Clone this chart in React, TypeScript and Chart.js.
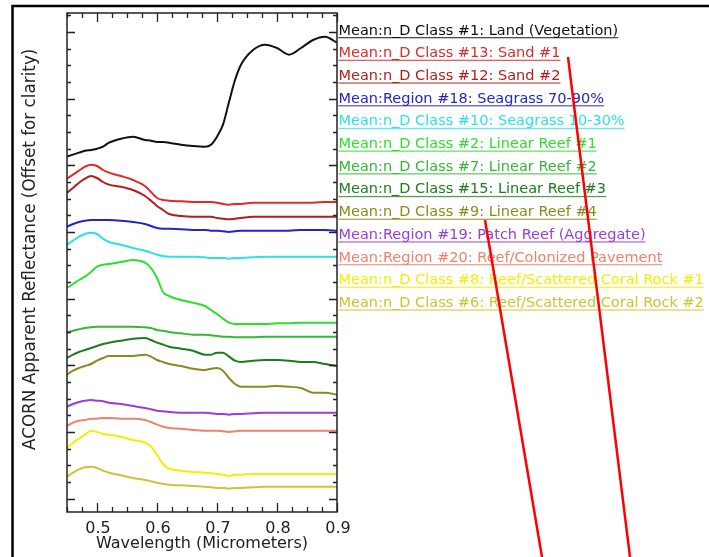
import { useEffect, useRef } from 'react';
import { Chart, registerables } from 'chart.js';

Chart.register(...registerables);

// Wavelength samples (micrometers)
const WAVELENGTHS = [
  0.45, 0.46, 0.47, 0.48, 0.49, 0.5, 0.51, 0.52, 0.54, 0.56, 0.58, 0.59, 0.6, 0.61, 0.62, 0.64,
  0.66, 0.68, 0.69, 0.7, 0.71, 0.72, 0.73, 0.74, 0.76, 0.78, 0.8, 0.82, 0.84, 0.86, 0.88, 0.9,
];

// Mean apparent reflectance per class, offset for clarity
const LAND_VEGETATION = [
  0.533, 0.536, 0.539, 0.542, 0.543, 0.545, 0.548, 0.554, 0.56, 0.563, 0.558, 0.557, 0.555, 0.555, 0.554, 0.551,
  0.549, 0.548, 0.551, 0.563, 0.581, 0.615, 0.648, 0.671, 0.693, 0.701, 0.696, 0.686, 0.696, 0.708, 0.713, 0.704,
];
const SAND_1 = [
  0.5, 0.506, 0.512, 0.518, 0.521, 0.519, 0.513, 0.509, 0.504, 0.498, 0.489, 0.48, 0.471, 0.468, 0.467, 0.466,
  0.465, 0.465, 0.465, 0.464, 0.462, 0.461, 0.462, 0.462, 0.464, 0.464, 0.464, 0.464, 0.464, 0.464, 0.465, 0.465,
];
const SAND_2 = [
  0.479, 0.486, 0.494, 0.5, 0.504, 0.501, 0.495, 0.491, 0.488, 0.483, 0.474, 0.467, 0.459, 0.453, 0.447, 0.444,
  0.443, 0.443, 0.443, 0.441, 0.44, 0.439, 0.44, 0.441, 0.443, 0.443, 0.443, 0.443, 0.443, 0.443, 0.443, 0.443,
];
const SEAGRASS_70_90 = [
  0.428, 0.432, 0.435, 0.437, 0.438, 0.438, 0.438, 0.438, 0.437, 0.435, 0.432, 0.429, 0.426, 0.425, 0.425, 0.424,
  0.423, 0.423, 0.422, 0.422, 0.421, 0.42, 0.421, 0.422, 0.422, 0.422, 0.422, 0.422, 0.423, 0.423, 0.423, 0.422,
];
const SEAGRASS_10_30 = [
  0.401, 0.407, 0.413, 0.417, 0.419, 0.417, 0.41, 0.405, 0.401, 0.396, 0.392, 0.389, 0.386, 0.384, 0.383, 0.383,
  0.383, 0.382, 0.381, 0.381, 0.381, 0.38, 0.381, 0.381, 0.382, 0.383, 0.383, 0.383, 0.383, 0.383, 0.383, 0.383,
];
const LINEAR_REEF_1 = [
  0.336, 0.342, 0.348, 0.353, 0.36, 0.368, 0.371, 0.372, 0.375, 0.378, 0.374, 0.366, 0.351, 0.33, 0.324, 0.318,
  0.314, 0.309, 0.303, 0.297, 0.29, 0.284, 0.282, 0.282, 0.282, 0.282, 0.283, 0.283, 0.284, 0.284, 0.284, 0.284,
];
const LINEAR_REEF_2 = [
  0.269, 0.272, 0.274, 0.276, 0.277, 0.278, 0.278, 0.278, 0.278, 0.278, 0.277, 0.276, 0.273, 0.272, 0.27, 0.268,
  0.266, 0.266, 0.265, 0.264, 0.263, 0.263, 0.262, 0.262, 0.262, 0.263, 0.263, 0.263, 0.263, 0.263, 0.263, 0.263,
];
const LINEAR_REEF_3 = [
  0.231, 0.236, 0.24, 0.243, 0.246, 0.249, 0.252, 0.254, 0.257, 0.26, 0.261, 0.258, 0.254, 0.251, 0.248, 0.245,
  0.242, 0.236, 0.236, 0.239, 0.239, 0.233, 0.227, 0.225, 0.227, 0.228, 0.228, 0.227, 0.225, 0.225, 0.222, 0.219,
];
const LINEAR_REEF_4 = [
  0.206, 0.212, 0.216, 0.219, 0.222, 0.227, 0.231, 0.234, 0.234, 0.234, 0.236, 0.233, 0.228, 0.225, 0.222, 0.219,
  0.215, 0.213, 0.215, 0.216, 0.212, 0.201, 0.192, 0.188, 0.188, 0.188, 0.189, 0.188, 0.186, 0.179, 0.179, 0.176,
];
const PATCH_REEF = [
  0.158, 0.162, 0.165, 0.167, 0.168, 0.167, 0.166, 0.164, 0.162, 0.159, 0.156, 0.154, 0.152, 0.151, 0.15, 0.149,
  0.149, 0.149, 0.148, 0.147, 0.147, 0.146, 0.147, 0.147, 0.148, 0.149, 0.149, 0.149, 0.149, 0.149, 0.149, 0.149,
];
const COLONIZED_PAVEMENT = [
  0.129, 0.134, 0.137, 0.138, 0.14, 0.14, 0.141, 0.141, 0.14, 0.14, 0.138, 0.135, 0.131, 0.128, 0.126, 0.125,
  0.123, 0.122, 0.122, 0.122, 0.121, 0.12, 0.121, 0.122, 0.122, 0.122, 0.122, 0.122, 0.122, 0.122, 0.122, 0.122,
];
const CORAL_ROCK_1 = [
  0.096, 0.104, 0.11, 0.116, 0.122, 0.12, 0.117, 0.116, 0.113, 0.108, 0.104, 0.098, 0.086, 0.072, 0.065, 0.062,
  0.06, 0.059, 0.058, 0.057, 0.056, 0.054, 0.056, 0.056, 0.057, 0.057, 0.057, 0.057, 0.057, 0.057, 0.057, 0.057,
];
const CORAL_ROCK_2 = [
  0.053, 0.059, 0.064, 0.067, 0.068, 0.066, 0.062, 0.059, 0.055, 0.051, 0.048, 0.046, 0.044, 0.042, 0.041, 0.04,
  0.039, 0.038, 0.037, 0.036, 0.036, 0.035, 0.036, 0.036, 0.037, 0.038, 0.038, 0.038, 0.038, 0.038, 0.038, 0.038,
];

const SERIES = [
  LAND_VEGETATION, SAND_1, SAND_2, SEAGRASS_70_90, SEAGRASS_10_30, LINEAR_REEF_1, LINEAR_REEF_2,
  LINEAR_REEF_3, LINEAR_REEF_4, PATCH_REEF, COLONIZED_PAVEMENT, CORAL_ROCK_1, CORAL_ROCK_2,
];

const SERIES_LABELS = [
  'Mean:n_D Class #1: Land (Vegetation)',
  'Mean:n_D Class #13: Sand #1',
  'Mean:n_D Class #12: Sand #2',
  'Mean:Region #18: Seagrass 70-90%',
  'Mean:n_D Class #10: Seagrass 10-30%',
  'Mean:n_D Class #2: Linear Reef #1',
  'Mean:n_D Class #7: Linear Reef #2',
  'Mean:n_D Class #15: Linear Reef #3',
  'Mean:n_D Class #9: Linear Reef #4',
  'Mean:Region #19: Patch Reef (Aggregate)',
  'Mean:Region #20: Reef/Colonized Pavement',
  'Mean:n_D Class #8: Reef/Scattered Coral Rock #1',
  'Mean:n_D Class #6: Reef/Scattered Coral Rock #2',
];

const SERIES_COLORS = [
  '#111111', '#e02a2a', '#b31d1d', '#2424c8', '#2fe0e8', '#2ee02e', '#35b835',
  '#1d7d1d', '#8c8a1c', '#9a3ddc', '#f0826a', '#f2f000', '#c9c632',
];

const X_TICK_VALUES = [0.5, 0.6, 0.7, 0.8, 0.9];
const X_TICK_LABELS = ['0.5', '0.6', '0.7', '0.8', '0.9'];

const X_TITLE = 'Wavelength (Micrometers)';
const Y_TITLE = 'ACORN Apparent Reflectance (Offset for clarity)';

const FONT = '"DejaVu Sans", "Liberation Sans", sans-serif';

const decorations = {
  id: 'decorations',
  beforeDraw(chart: any) {
    const { ctx, width, height } = chart;
    ctx.save();
    ctx.fillStyle = '#ffffff';
    ctx.fillRect(0, 0, width, height);
    ctx.restore();
  },
  afterDatasetsDraw(chart: any) {
    const { ctx, chartArea, scales } = chart;
    const { left, right, top, bottom } = chartArea;
    const xs = scales.x;
    const ys = scales.y;
    ctx.save();

    // plot frame
    ctx.strokeStyle = '#222';
    ctx.lineWidth = 1.5;
    ctx.strokeRect(left, top, right - left, bottom - top);

    // inward ticks on x (bottom and top)
    ctx.lineWidth = 1.3;
    ctx.beginPath();
    for (let i = 0; i <= 18; i++) {
      const v = 0.45 + i * 0.025;
      const px = Math.round(xs.getPixelForValue(v)) + 0.5;
      const major = i % 4 === 2;
      const len = major ? 9 : 5;
      ctx.moveTo(px, bottom);
      ctx.lineTo(px, bottom - len);
      ctx.moveTo(px, top);
      ctx.lineTo(px, top + len);
    }
    // inward ticks on y (left and right)
    for (let k = 0; ; k++) {
      const v = 0.02 + k * 0.025;
      if (v > ys.max) break;
      const py = Math.round(ys.getPixelForValue(v)) + 0.5;
      const len = k % 4 === 0 ? 8 : 4;
      ctx.moveTo(left, py);
      ctx.lineTo(left + len, py);
      ctx.moveTo(right, py);
      ctx.lineTo(right - len, py);
    }
    ctx.stroke();

    // x tick labels
    ctx.fillStyle = '#222';
    ctx.font = `16px ${FONT}`;
    ctx.textAlign = 'center';
    ctx.textBaseline = 'alphabetic';
    X_TICK_VALUES.forEach((v, i) => {
      ctx.fillText(X_TICK_LABELS[i], xs.getPixelForValue(v) + 1, bottom + 21);
    });

    // axis titles
    ctx.font = `16px ${FONT}`;
    ctx.fillText(X_TITLE, (left + right) / 2, bottom + 36);
    ctx.save();
    ctx.translate(35, 450);
    ctx.rotate(-Math.PI / 2);
    ctx.textAlign = 'left';
    ctx.font = `16.8px ${FONT}`;
    ctx.fillText(Y_TITLE, 0, 0);
    ctx.restore();

    // legend: underlined coloured labels to the right of the plot
    ctx.font = `14.5px ${FONT}`;
    ctx.textAlign = 'left';
    chart.data.datasets.forEach((ds: any, i: number) => {
      const yb = 34.5 + i * 22.7;
      const lx = right + 1.5;
      ctx.fillStyle = ds.borderColor;
      ctx.fillText(ds.label, lx, yb);
      const w = ctx.measureText(ds.label).width;
      ctx.globalAlpha = 0.75;
      ctx.fillRect(lx, yb + 2.5, w, 1.3);
      ctx.globalAlpha = 1;
    });

    // outer frame
    ctx.strokeStyle = '#000';
    ctx.lineWidth = 2.5;
    ctx.beginPath();
    ctx.moveTo(12.5, chart.height + 2);
    ctx.lineTo(12.5, 6);
    ctx.lineTo(chart.width + 2, 6);
    ctx.stroke();

    // red callout strokes
    ctx.strokeStyle = '#ff0000';
    ctx.lineWidth = 2.5;
    ctx.beginPath();
    ctx.moveTo(568, 57);
    ctx.lineTo(630, 557);
    ctx.moveTo(485, 220);
    ctx.lineTo(542, 557);
    ctx.stroke();

    ctx.restore();
  },
};

export default function App() {
  const canvasRef = useRef<HTMLCanvasElement | null>(null);

  useEffect(() => {
    const canvas = canvasRef.current;
    if (!canvas) return;
    const chart = new Chart(canvas, {
      type: 'line',
      data: {
        datasets: SERIES.map((values, i) => ({
          label: SERIES_LABELS[i],
          data: WAVELENGTHS.map((w, j) => ({ x: w, y: values[j] })),
          borderColor: SERIES_COLORS[i],
          backgroundColor: SERIES_COLORS[i],
          borderWidth: 2,
          pointRadius: 0,
          cubicInterpolationMode: 'monotone' as const,
          fill: false,
        })),
      },
      options: {
        responsive: false,
        animation: false,
        devicePixelRatio: 1,
        layout: { padding: { left: 67, top: 13, right: 372, bottom: 45 } },
        scales: {
          x: { type: 'linear', min: 0.45, max: 0.9, display: false },
          y: { type: 'linear', min: 0, max: 0.7485, display: false },
        },
        plugins: {
          legend: { display: false },
          tooltip: { enabled: false },
        },
      },
      plugins: [decorations],
    });
    return () => chart.destroy();
  }, []);

  return (
    <div style={{ position: 'fixed', left: 0, top: 0, width: 709, height: 557, background: '#fff' }}>
      <canvas ref={canvasRef} width={709} height={557} />
    </div>
  );
}
